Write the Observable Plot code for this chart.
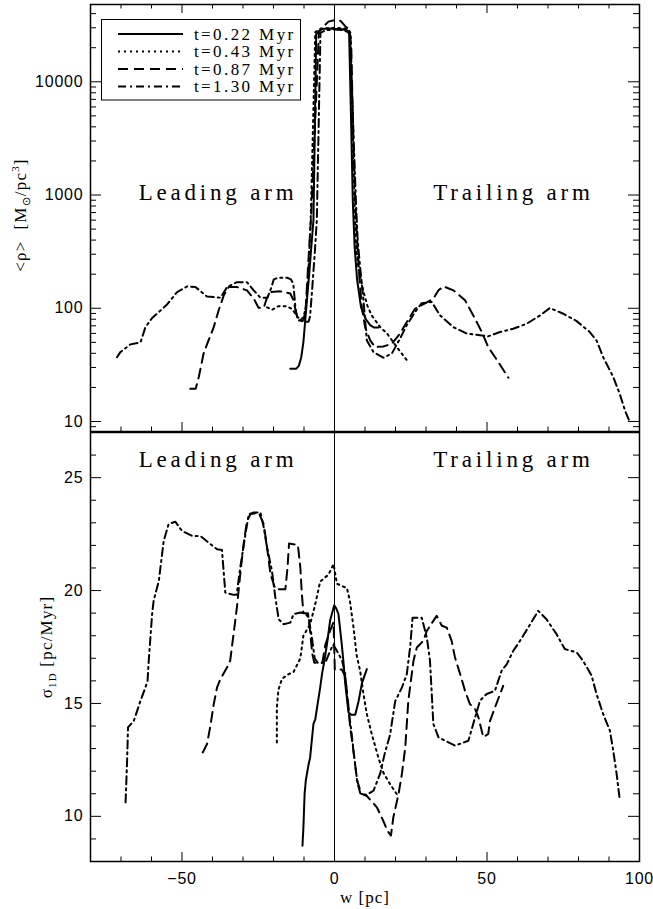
<!DOCTYPE html>
<html>
<head>
<meta charset="utf-8">
<script src="https://cdn.jsdelivr.net/npm/d3@7"></script>
<script src="https://cdn.jsdelivr.net/npm/@observablehq/plot@0.6"></script>
<style>
  html, body { margin: 0; padding: 0; background: #fff; }
  #wrap { position: relative; width: 653px; height: 909px; background: #fff; overflow: hidden; }
  #wrap svg.plotsvg { display: block; overflow: visible; }
  g[font-size="23"] { letter-spacing: 3.8px; }
  g[font-size="17"] { letter-spacing: 1px; }
  g[font-size="16"] { letter-spacing: 0.8px; }
  .ylab { position: absolute; white-space: nowrap; font-family: "Liberation Serif", serif; font-size: 17px; letter-spacing: 1.2px; transform: translate(-50%, -50%) rotate(-90deg); line-height: 1; }
  .ylab sub, .ylab sup { font-size: 11px; }
</style>
</head>
<body>
<div id="wrap"></div>
<script>
// ---------------- data ----------------
const seriesLabels = ["t=0.22 Myr", "t=0.43 Myr", "t=0.87 Myr", "t=1.30 Myr"];

// top panel: <rho> [Msun/pc^3] vs w [pc]
const rho_t022 = [[-14.5,29.3],[-12.5,29.3],[-11.7,31],[-10.9,37],[-10.2,50],[-9.6,78],[-8.9,130],[-8.3,200],[-7.6,350],[-6.9,600],[-6.0,26500],[-4.1,29300],[-2,29500],[0,29300],[2,29300],[4.1,28500],[4.8,26500],[5.4,5000],[6.0,890],[6.6,350],[7.4,180],[8.7,102],[10.3,80],[11.7,71],[13,67.5],[14.4,67.5]];
const rho_t043 = [[-22.1,102],[-20.5,97],[-18.5,104],[-15.5,104],[-13.8,98],[-12.5,86],[-11.3,80],[-10.3,82],[-9.4,100],[-8.6,200],[-7.8,600],[-6.3,27500],[-4.5,29500],[0,30000],[4.3,29500],[5.3,27000],[6.2,2000],[6.9,400],[7.8,231],[9.5,140],[10.8,105],[12.2,86.5],[15.0,68],[17.2,60],[20.4,45.5],[24.2,33.5]];
const rho_t087 = [[-47.3,19.5],[-45.5,19.5],[-44.5,24.7],[-42.9,40],[-41.3,52],[-39.6,68],[-38,95.5],[-36.3,130],[-34.7,154],[-32,154],[-28.7,144],[-26.5,122],[-24.9,101],[-23.2,101],[-22.3,120],[-21.1,139],[-17.8,141],[-14.5,135],[-13.4,117],[-12.6,90],[-11.8,78],[-10.1,78],[-9.4,105],[-8.6,250],[-7.6,700],[-5.1,28000],[-3.5,31000],[-2,34000],[0,35000],[2,34500],[3.5,31000],[4.8,29000],[5.5,20000],[6.2,3000],[6.8,900],[7.4,400],[8.2,180],[9.0,100],[10.05,68],[11.7,52],[13.3,45.5],[16.0,46],[18.8,48.6],[21.5,60],[23.7,75.5],[26.4,99],[30.3,113],[32.4,121.5],[34.1,144],[35.7,156],[39.0,144],[42.8,117.5],[45.5,86.5],[48.3,61.7],[50.4,45.5],[53.7,33.5],[57.0,24.4]];
const rho_t130 = [[-71.3,37],[-70.2,41],[-66.9,48],[-63.6,50],[-62.0,68],[-59.8,82],[-58.2,89.5],[-54.9,108],[-51.6,139],[-48.3,156],[-45.6,154],[-41.8,127],[-37.4,124],[-35.2,154],[-32.0,170],[-28.7,170],[-26.5,144],[-24.3,124],[-22,124],[-20.8,150],[-19.9,180],[-18.5,186],[-15.5,186],[-14.3,180],[-13.5,165],[-12.8,100],[-12.2,83],[-10.5,76],[-8.5,76],[-8.0,85],[-7.3,150],[-6.5,300],[-5.8,600],[-4.6,27000],[-3,28500],[0,29000],[3,28500],[5.1,27000],[6.3,3000],[7.0,900],[7.6,400],[8.4,231],[9.5,117],[10.6,52],[12.8,41],[16.0,36.6],[18.8,39.8],[21.5,54],[23.7,71],[26.4,92.5],[28.6,111],[31.9,113.5],[34.6,86.5],[39.0,68],[43.4,59.7],[47.7,57.7],[50.4,56.5],[54.3,61.7],[58.6,66],[63.0,73],[67.4,86.5],[70.6,100.5],[75.0,89.5],[79.4,77],[83.7,61.7],[85.9,52],[88.1,37],[91.4,24.7],[93.5,17.6],[95.2,12.6],[96.6,10.2]];

// bottom panel: sigma_1D [pc/Myr] vs w [pc]
const sig_t022 = [[-10.5,8.7],[-10.2,9.5],[-9.8,11.0],[-9.4,11.6],[-8.5,12.3],[-8.0,12.6],[-6.9,14.1],[-6.3,14.3],[-5.5,15.0],[-4.7,15.7],[-4.1,16.3],[-3.3,16.9],[-2.5,17.6],[-1.4,18.7],[-0.1,19.35],[0.6,19.2],[1.3,18.96],[2.4,17.6],[2.9,16.9],[3.5,15.9],[4.1,15.2],[4.6,14.6],[5.5,14.5],[6.8,14.5],[7.9,15.1],[9.0,15.9],[10.6,16.52]];
const sig_t043 = [[-18.9,13.27],[-18.9,14.8],[-18.4,15.6],[-17.2,16.1],[-15,16.3],[-13.4,16.4],[-11.2,17.0],[-10.2,18.0],[-8.0,18.5],[-6.3,19.4],[-4.7,20.4],[-2.0,20.7],[-0.3,21.17],[0.8,20.3],[2.5,20.2],[4.1,20.1],[5.1,19.5],[6.2,18.4],[7.3,17.1],[8.4,16.45],[9.5,15.42],[10.6,14.53],[12.2,13.65],[14.4,12.6],[16.0,11.94],[18.2,11.43],[20.4,10.99],[21.0,10.9]];
const sig_t087 = [[-43.2,12.83],[-41.8,13.2],[-40.7,14.0],[-39.6,14.97],[-38.5,15.71],[-37.4,16.08],[-35.2,16.6],[-34.2,16.9],[-33.1,18.07],[-32.0,19.25],[-30.9,20.73],[-29.8,22.05],[-28.7,23.08],[-27.6,23.38],[-24.9,23.46],[-23.2,22.94],[-22.1,21.9],[-21.0,20.73],[-19.4,20.06],[-16.1,20.06],[-15.4,21.02],[-14.9,22.08],[-12.0,22.02],[-11.2,21.02],[-10.7,19.84],[-10.2,19.0],[-8.7,19.0],[-8.0,18.2],[-7.3,17.2],[-6.6,16.8],[-4.0,16.8],[-3.0,17.6],[-1.5,18.2],[-0.3,18.6],[0.1,16.5],[2.4,16.5],[3.5,16.2],[4.5,15.0],[5.1,14.0],[6.2,12.9],[7.4,11.6],[8.8,11.0],[10.6,10.9],[13.9,10.4],[16.0,9.8],[17.4,9.35],[18.5,9.15],[19.3,9.96],[21.0,10.99],[22.1,11.88],[23.2,13.05],[24.2,15.12],[25.9,16.89],[27.0,17.48],[29.1,17.77],[30.3,18.22],[33.5,18.88],[35.2,18.44],[36.8,18.36],[38.4,17.77],[39.5,17.04],[41.2,16.3],[42.8,15.56],[44.4,14.97],[46.1,14.75],[47.2,14.38],[48.8,13.5],[50.4,13.65],[51.0,14.23],[52.6,14.82],[54.3,15.42],[55.3,15.78]];
const sig_t130 = [[-68.5,10.62],[-68.0,12.46],[-67.7,13.94],[-65.8,14.23],[-63.6,15.12],[-62.0,15.71],[-61.3,16.0],[-60.9,16.9],[-59.8,18.96],[-59.3,19.55],[-57.6,20.43],[-56.0,22.2],[-54.4,22.94],[-52.2,23.05],[-50.0,22.64],[-46.7,22.42],[-44.0,22.42],[-41.3,22.12],[-38.5,21.83],[-36.9,21.8],[-35.8,19.91],[-33.1,19.81],[-32.1,19.81],[-30.9,21.02],[-29.2,22.5],[-28.1,23.38],[-26.5,23.46],[-24.3,23.46],[-23.2,22.8],[-22.1,21.9],[-20.5,20.87],[-19.4,19.7],[-18.3,18.73],[-16.7,18.51],[-14.5,18.58],[-13.4,18.96],[-11.2,19.03],[-9.6,18.98],[-8.5,18.8],[-7.5,18.0],[-6.5,17.0],[-5.5,16.8],[-3,16.8],[-1.5,17.3],[-0.5,17.6],[0.5,17.4],[2.5,16.9],[3.5,16.3],[4.5,14.8],[5.5,13.8],[6.5,12.6],[7.5,11.5],[8.5,11.0],[10.5,10.95],[12.8,11.14],[15.0,11.9],[16.5,12.8],[18.2,13.6],[19.9,15.1],[22.1,15.7],[23.7,16.3],[24.8,17.5],[25.6,18.8],[28.6,18.8],[30.3,17.9],[31.3,16.9],[31.9,15.4],[32.4,14.1],[34.1,13.5],[36.3,13.35],[39.5,13.13],[43.9,13.35],[46.1,14.38],[47.7,15.12],[49.9,15.42],[52.6,15.56],[54.8,16.45],[56.5,16.74],[58.6,17.33],[60.8,17.77],[63.5,18.36],[66.8,19.1],[69.5,18.73],[72.8,18.07],[75.5,17.41],[79.4,17.26],[81.5,16.89],[84.3,16.23],[85.9,15.42],[88.1,14.53],[90.3,13.79],[91.4,12.9],[92.5,11.88],[93.5,10.77]];

// ticks
const xMajor = [-50, 0, 50, 100];
const xMajorLabels = ["\u221250", "0", "50", "100"];
const xMinor = [-70, -60, -40, -30, -20, -10, 10, 20, 30, 40, 60, 70, 80, 90];
const rhoMajor = [10, 100, 1000, 10000];
const rhoMajorLabels = ["10", "100", "1000", "10000"];
const rhoMinor = [9, 20, 30, 40, 50, 60, 70, 80, 90, 200, 300, 400, 500, 600, 700, 800, 900, 2000, 3000, 4000, 5000, 6000, 7000, 8000, 9000, 20000, 30000, 40000];
const sigMajor = [10, 15, 20, 25];
const sigMajorLabels = ["10", "15", "20", "25"];
const sigMinor = [9, 11, 12, 13, 14, 16, 17, 18, 19, 21, 22, 23, 24, 26];

// annotations
const armLabels = ["Leading arm", "Trailing arm"];
const armW = [-64.2, 32.4];
const armRho = [1050, 1050];
const armSig = [25.82, 25.82];

// ---------------- styles ----------------
const dashes = [null, "2,4", "10,6", "8,4,2,4"];
const W = 653, ML = 90, MR = 14;
const PW = W - ML - MR;
const TOP_H = 432, TOP_MT = 4, TOP_MB = 1;
const BOT_H = 477, BOT_MT = 0, BOT_MB = 48;
const TOP_PH = TOP_H - TOP_MT - TOP_MB;
const BOT_PH = BOT_H - BOT_MT - BOT_MB;
const YMAJ = 11, YMIN = 6, XMAJ = 9, XMIN = 4.5;

function lineMarks(series) {
  return series.map((s, i) => Plot.line(s, {
    x: d => d[0], y: d => d[1], stroke: "black", strokeWidth: 2,
    strokeDasharray: dashes[i] || undefined, strokeLinejoin: "round", curve: "linear"
  }));
}

function tickMarks(ph, yMaj, yMin, {xTop = true, xBottom = true} = {}) {
  const m = [];
  m.push(Plot.tickY(yMaj, {y: d => d, insetRight: PW - YMAJ, stroke: "black", strokeWidth: 1}));
  m.push(Plot.tickY(yMin, {y: d => d, insetRight: PW - YMIN, stroke: "black", strokeWidth: 1}));
  m.push(Plot.tickY(yMaj, {y: d => d, insetLeft: PW - YMAJ, stroke: "black", strokeWidth: 1}));
  m.push(Plot.tickY(yMin, {y: d => d, insetLeft: PW - YMIN, stroke: "black", strokeWidth: 1}));
  if (xBottom) {
    m.push(Plot.tickX(xMajor, {x: d => d, insetTop: ph - XMAJ, stroke: "black", strokeWidth: 1}));
    m.push(Plot.tickX(xMinor, {x: d => d, insetTop: ph - XMIN, stroke: "black", strokeWidth: 1}));
  }
  if (xTop) {
    m.push(Plot.tickX(xMajor, {x: d => d, insetBottom: ph - XMAJ, stroke: "black", strokeWidth: 1}));
    m.push(Plot.tickX(xMinor, {x: d => d, insetBottom: ph - XMIN, stroke: "black", strokeWidth: 1}));
  }
  return m;
}

const topPlot = Plot.plot({
  width: W, height: TOP_H, marginLeft: ML, marginRight: MR, marginTop: TOP_MT, marginBottom: TOP_MB,
  x: {domain: [-80, 100], axis: null},
  y: {type: "log", domain: [8.16, 48150], axis: null},
  style: {background: "white", fontFamily: "Liberation Sans, sans-serif", overflow: "visible"},
  marks: [
    Plot.ruleX([0], {stroke: "black", strokeWidth: 1}),
    ...lineMarks([rho_t022, rho_t043, rho_t087, rho_t130]),
    ...tickMarks(TOP_PH, rhoMajor, rhoMinor),
    Plot.text(rhoMajor, {y: d => d, text: (d, i) => rhoMajorLabels[i], frameAnchor: "left", dx: -7, textAnchor: "end", lineAnchor: "middle", fontSize: 16, fill: "black"}),
    Plot.text(armLabels, {x: (d, i) => armW[i], y: (d, i) => armRho[i], text: d => d, textAnchor: "start", lineAnchor: "middle", fontSize: 23, fontFamily: "Liberation Serif, serif", fill: "black"}),
    Plot.frame({stroke: "black", strokeWidth: 1.5})
  ]
});

const botPlot = Plot.plot({
  width: W, height: BOT_H, marginLeft: ML, marginRight: MR, marginTop: BOT_MT, marginBottom: BOT_MB,
  x: {domain: [-80, 100], axis: null},
  y: {domain: [8, 27], axis: null},
  style: {background: "white", fontFamily: "Liberation Sans, sans-serif", overflow: "visible"},
  marks: [
    Plot.ruleX([0], {stroke: "black", strokeWidth: 1}),
    ...lineMarks([sig_t022, sig_t043, sig_t087, sig_t130]),
    ...tickMarks(BOT_PH, sigMajor, sigMinor, {xTop: false}),
    Plot.text(sigMajor, {y: d => d, text: (d, i) => sigMajorLabels[i], frameAnchor: "left", dx: -7, textAnchor: "end", lineAnchor: "middle", fontSize: 16, fill: "black"}),
    Plot.text(xMajor, {x: d => d, text: (d, i) => xMajorLabels[i], frameAnchor: "bottom", dy: 17.5, lineAnchor: "middle", fontSize: 16, fill: "black"}),
    Plot.text(["w [pc]"], {text: d => d, frameAnchor: "bottom", dy: 36, lineAnchor: "middle", fontSize: 17, fontFamily: "Liberation Serif, serif", fill: "black"}),
    Plot.text(armLabels, {x: (d, i) => armW[i], y: (d, i) => armSig[i], text: d => d, textAnchor: "start", lineAnchor: "middle", fontSize: 23, fontFamily: "Liberation Serif, serif", fill: "black"}),
    Plot.frame({stroke: "black", strokeWidth: 1.5})
  ]
});

const wrap = document.getElementById("wrap");
topPlot.classList.add("plotsvg");
botPlot.classList.add("plotsvg");
wrap.appendChild(topPlot);
wrap.appendChild(botPlot);

// y-axis titles
const yl1 = document.createElement("div");
yl1.className = "ylab";
yl1.style.left = "21px"; yl1.style.top = "215px";
yl1.innerHTML = "&lt;\u03c1&gt;&nbsp;&nbsp;[M<sub>\u2299</sub>/pc<sup>3</sup>]";
wrap.appendChild(yl1);
const yl2 = document.createElement("div");
yl2.className = "ylab";
yl2.style.left = "48px"; yl2.style.top = "647px";
yl2.innerHTML = "\u03c3<sub>1D</sub> [pc/Myr]";
wrap.appendChild(yl2);

// legend (inside top panel, upper left)
const lg = d3.select(wrap).append("svg")
  .attr("width", 200).attr("height", 82)
  .style("position", "absolute").style("left", "101px").style("top", "18.5px");
lg.append("rect").attr("x", 0.5).attr("y", 0.5).attr("width", 199).attr("height", 80.5)
  .attr("fill", "white").attr("stroke", "black").attr("stroke-width", 1);
seriesLabels.forEach((lab, i) => {
  const cy = 15 + i * 17.5;
  const ln = lg.append("line").attr("x1", 17).attr("x2", 82).attr("y1", cy).attr("y2", cy)
    .attr("stroke", "black").attr("stroke-width", 2);
  if (dashes[i]) ln.attr("stroke-dasharray", dashes[i]);
  lg.append("text").attr("x", 93).attr("y", cy).attr("dy", "0.35em")
    .attr("font-family", "Liberation Serif, serif").attr("font-size", 17)
    .attr("letter-spacing", "2.4px").attr("fill", "black").text(lab);
});
</script>
</body>
</html>
